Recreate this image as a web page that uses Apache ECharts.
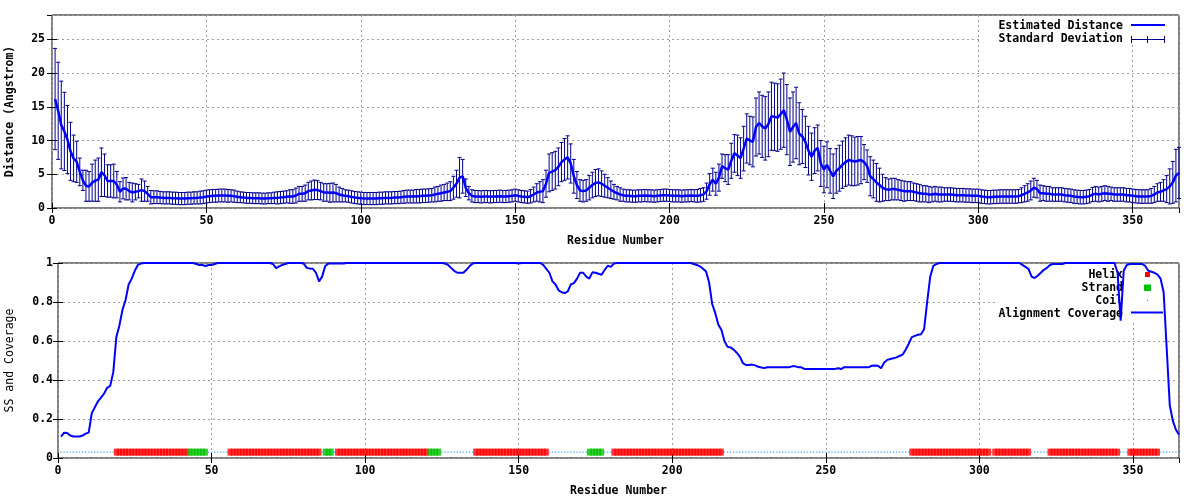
<!DOCTYPE html>
<html><head><meta charset="utf-8">
<script src="https://cdn.jsdelivr.net/npm/echarts@6/dist/echarts.min.js"></script>
<style>html,body{margin:0;padding:0;background:#fff}#c{width:1200px;height:500px}</style>
</head><body><div id="c"></div>
<script>
// Estimated distance per residue (1..365)
const distance = [
16.15,14.4,12.3,11.35,10.15,8.4,7.35,6.85,5.35,4.1,
3.3,3.2,3.75,4.05,4.2,5.3,4.85,4.0,4.0,4.0,
3.45,2.4,2.9,2.85,2.5,2.3,2.4,2.5,2.65,2.5,
2.1,1.6,1.6,1.6,1.55,1.5,1.5,1.5,1.45,1.45,
1.4,1.4,1.4,1.45,1.45,1.5,1.5,1.55,1.6,1.7,
1.75,1.8,1.8,1.85,1.85,1.85,1.8,1.8,1.75,1.65,
1.6,1.55,1.5,1.5,1.45,1.45,1.45,1.4,1.4,1.45,
1.45,1.5,1.5,1.55,1.6,1.65,1.7,1.7,1.85,2.1,
2.1,2.2,2.5,2.6,2.7,2.65,2.5,2.3,2.3,2.25,
2.3,2.2,2.0,1.9,1.8,1.75,1.65,1.55,1.5,1.45,
1.4,1.4,1.4,1.4,1.4,1.45,1.45,1.5,1.5,1.5,
1.55,1.55,1.6,1.65,1.7,1.7,1.7,1.75,1.75,1.8,
1.8,1.85,1.9,2.0,2.1,2.2,2.3,2.4,2.5,3.0,
3.6,4.5,4.7,3.0,2.2,1.8,1.7,1.7,1.65,1.7,
1.7,1.65,1.7,1.7,1.75,1.7,1.7,1.75,1.8,1.9,
1.8,1.7,1.65,1.6,1.75,2.0,2.3,2.4,2.5,3.6,
5.2,5.4,5.6,6.1,6.8,7.2,7.5,6.6,4.7,3.4,
2.6,2.5,2.6,3.0,3.4,3.7,3.8,3.6,3.3,3.0,
2.7,2.4,2.2,2.0,1.9,1.8,1.8,1.75,1.75,1.8,
1.8,1.85,1.8,1.8,1.75,1.8,1.85,1.9,1.9,1.85,
1.8,1.8,1.8,1.75,1.8,1.8,1.85,1.8,1.8,1.9,
2.0,2.5,3.5,4.2,3.6,4.5,6.2,5.9,5.7,7.0,
8.1,7.8,7.4,8.8,10.3,10.0,9.8,12.0,12.6,12.1,
11.8,12.4,13.6,13.5,13.4,13.9,14.5,13.1,11.3,12.0,
12.6,11.0,10.6,9.8,8.5,7.6,8.5,8.9,6.6,5.7,
6.4,5.5,4.7,5.5,5.9,6.4,6.8,7.1,7.0,6.9,
7.0,7.1,6.8,6.2,4.7,4.3,3.8,3.4,3.0,2.8,
2.7,2.8,2.8,2.7,2.6,2.5,2.5,2.5,2.4,2.3,
2.2,2.1,2.1,2.0,2.0,2.1,2.0,2.0,2.0,2.0,
2.0,1.95,1.9,1.9,1.9,1.85,1.85,1.8,1.8,1.8,
1.7,1.65,1.6,1.6,1.65,1.65,1.7,1.7,1.7,1.7,
1.7,1.7,1.75,1.9,2.1,2.3,2.6,3.0,2.8,2.2,
2.2,2.1,2.1,2.0,2.0,2.0,2.0,1.9,1.85,1.8,
1.7,1.65,1.6,1.6,1.65,1.75,2.0,2.1,2.0,2.1,
2.2,2.1,2.1,2.0,2.0,2.0,2.0,1.9,1.9,1.8,
1.75,1.7,1.7,1.7,1.7,1.8,2.0,2.3,2.4,2.6,
2.8,3.2,3.8,4.8,5.2
];
// Standard deviation per residue (1..365)
const stdDev = [
7.5,7.2,6.5,5.8,5.05,4.3,3.45,3.05,2.05,1.5,
2.3,2.2,2.75,3.05,3.2,3.6,3.15,2.4,2.4,2.5,
1.95,1.5,1.55,1.65,1.3,1.4,1.2,1.0,1.65,1.5,
1.1,1.0,0.95,0.95,0.9,0.9,0.9,0.9,0.9,0.9,
0.9,0.9,0.9,0.9,0.9,0.9,0.9,0.95,0.95,0.95,
0.95,0.95,0.95,0.95,0.95,0.95,0.95,0.9,0.9,0.85,
0.8,0.8,0.8,0.8,0.8,0.8,0.8,0.8,0.8,0.8,
0.8,0.85,0.9,0.9,0.9,0.9,1.0,1.0,1.1,1.1,
1.1,1.2,1.3,1.4,1.45,1.4,1.3,1.3,1.3,1.4,
1.4,1.3,1.1,1.0,0.9,0.9,0.9,0.9,0.9,0.9,
0.9,0.9,0.9,0.9,0.9,0.9,0.9,0.9,0.9,0.9,
0.9,0.9,0.9,0.95,0.95,0.95,0.95,1.0,1.0,1.0,
1.0,1.0,1.0,1.1,1.1,1.2,1.2,1.3,1.4,1.7,
2.0,3.0,2.5,1.3,1.0,0.9,0.9,0.9,0.9,0.9,
0.9,0.9,0.9,0.9,0.9,0.9,0.9,0.9,0.9,0.9,
0.9,0.9,0.9,0.9,1.0,1.1,1.3,1.5,1.7,2.0,
2.8,2.8,2.8,2.8,2.9,3.1,3.2,2.9,2.5,2.0,
1.6,1.6,1.6,1.8,1.9,2.0,2.0,1.9,1.7,1.5,
1.3,1.1,1.0,1.0,0.9,0.9,0.9,0.9,0.9,0.9,
0.9,0.9,0.9,0.9,0.9,0.9,0.9,0.9,0.9,0.9,
0.9,0.9,0.9,0.9,0.9,0.9,0.9,0.9,0.95,1.0,
1.0,1.2,1.6,1.7,1.7,2.0,1.8,2.0,2.2,2.6,
2.8,3.0,3.0,3.3,3.65,3.6,3.7,4.3,4.6,4.6,
4.7,4.8,5.05,5.0,5.0,5.2,5.5,5.2,5.0,5.2,
5.3,4.6,4.0,3.8,3.6,3.5,3.4,3.4,3.4,3.45,
3.4,3.3,3.3,3.3,3.4,3.5,3.6,3.7,3.7,3.6,
3.6,3.5,2.6,2.4,2.9,2.8,2.8,2.5,2.0,1.7,
1.6,1.6,1.6,1.5,1.5,1.5,1.4,1.4,1.3,1.3,
1.3,1.2,1.2,1.2,1.1,1.1,1.1,1.1,1.0,1.0,
1.0,1.0,1.0,1.0,1.0,1.0,1.0,1.0,1.0,1.0,
1.0,1.0,1.0,1.0,1.0,1.0,1.0,1.0,1.0,1.0,
1.0,1.0,1.0,1.1,1.2,1.3,1.4,1.4,1.3,1.2,
1.1,1.1,1.1,1.0,1.0,1.0,1.0,1.0,1.0,1.0,
1.0,1.0,1.0,1.0,1.0,1.0,1.05,1.1,1.1,1.1,
1.1,1.1,1.0,1.0,1.0,1.0,1.0,1.0,1.0,1.0,
1.0,1.0,1.0,1.0,1.0,1.1,1.2,1.3,1.4,1.6,
2.0,2.6,3.1,3.9,3.8
];
// Alignment coverage per residue (1..365)
const coverage = [
0.11,0.13,0.128,0.115,0.11,0.11,0.11,0.115,0.125,0.13,
0.23,0.26,0.29,0.31,0.33,0.36,0.37,0.44,0.62,0.68,
0.76,0.81,0.89,0.92,0.96,0.99,0.997,1,1,1,
1,1,1,1,1,1,1,1,1,1,
1,1,1,1,0.995,0.99,0.99,0.985,0.99,0.99,
0.995,1,1,1,1,1,1,1,1,1,
1,1,1,1,1,1,1,1,1,0.995,
0.974,0.983,0.99,0.995,1,1,1,1,1,0.997,
0.975,0.972,0.97,0.95,0.906,0.93,0.985,0.997,0.997,0.997,
0.997,0.997,0.997,1,1,1,1,1,1,1,
1,1,1,1,1,1,1,1,1,1,
1,1,1,1,1,1,1,1,1,1,
1,1,1,1,1,0.997,0.99,0.975,0.96,0.95,
0.95,0.95,0.965,0.983,0.997,1,1,1,1,1,
1,1,1,1,1,1,1,1,1,0.997,
1,1,1,1,1,1,1,0.99,0.97,0.95,
0.906,0.89,0.86,0.85,0.846,0.855,0.89,0.897,0.92,0.95,
0.95,0.93,0.92,0.952,0.95,0.945,0.94,0.965,0.986,0.98,
0.997,1,1,1,1,1,1,1,1,1,
1,1,1,1,1,1,1,1,1,1,
1,1,1,1,1,1,0.995,0.99,0.983,0.97,
0.957,0.9,0.79,0.744,0.684,0.658,0.6,0.57,0.567,0.556,
0.54,0.52,0.487,0.477,0.477,0.479,0.475,0.468,0.464,0.462,
0.465,0.465,0.465,0.465,0.465,0.465,0.465,0.465,0.47,0.47,
0.466,0.465,0.457,0.457,0.456,0.456,0.456,0.456,0.456,0.457,
0.457,0.457,0.457,0.46,0.456,0.466,0.466,0.466,0.466,0.466,
0.466,0.466,0.466,0.466,0.473,0.474,0.473,0.46,0.49,0.503,
0.508,0.512,0.516,0.523,0.53,0.555,0.586,0.62,0.626,0.632,
0.635,0.66,0.8,0.93,0.985,0.995,1,1,1,1,
1,1,1,1,1,1,1,1,1,1,
1,1,1,1,1,1,1,1,1,1,
1,1,1,0.99,0.98,0.97,0.93,0.923,0.935,0.95,
0.965,0.975,0.99,0.995,0.995,0.995,0.995,1,1,1,
1,1,1,1,1,1,1,1,1,1,
1,1,1,1,0.95,0.704,0.96,0.99,0.995,0.995,
0.995,0.995,0.995,0.985,0.96,0.955,0.95,0.94,0.92,0.85,
0.56,0.27,0.19,0.145,0.12
];
// Secondary structure segments (residue ranges)
const helixRanges = [[19,42],[56,85],[91,120],[136,159],[181,216],[278,303],[305,316],[323,345],[349,358]];
const strandRanges = [[43,48],[87,89],[121,124],[173,177]];
const ssLevel = 0.03;
const firstResidue = 1, lastResidue = 365;
const xTicks = [0,50,100,150,200,250,300,350];

const residues = [];
for (let r = firstResidue; r <= lastResidue; r++) residues.push(r);
const inRanges = (r, rs) => rs.some(a => r >= a[0] && r <= a[1]);
const helixPts = [], strandPts = [], coilPts = [];
residues.forEach(r => {
  if (inRanges(r, helixRanges)) helixPts.push([r, ssLevel]);
  else if (inRanges(r, strandRanges)) strandPts.push([r, ssLevel]);
  else coilPts.push([r, ssLevel]);
});

const FONT = 'DejaVu Sans Mono';
const lbl = {fontFamily: FONT, fontWeight: 'bold', fontSize: 11.5, color: '#000'};
const gridLine = {show: true, lineStyle: {color: '#a0a0a0', type: [2, 3], width: 1}};
const tick = {show: true, inside: true, length: 5, lineStyle: {color: '#000'}};

function xAx(grid, main, name, gap) {
  return {
    type: 'value', gridIndex: grid, min: 0, max: 365, interval: 50,
    position: main ? 'bottom' : 'top',
    name: main ? name : '', nameLocation: 'middle', nameGap: gap || 26,
    nameTextStyle: {fontFamily: FONT, fontWeight: 'bold', fontSize: 11.5, color: '#000'},
    axisLine: {show: false}, axisTick: tick,
    axisLabel: main ? Object.assign({margin: 7, showMaxLabel: false,
      formatter: v => xTicks.indexOf(v) >= 0 ? String(v) : ''}, lbl) : {show: false},
    splitLine: main ? gridLine : {show: false}, z: main ? 0 : 3
  };
}

const option = {
  animation: false,
  backgroundColor: '#fff',
  grid: [
    {left: 52, top: 15, width: 1127, height: 193, show: true, borderColor: '#000', borderWidth: 1,
     containLabel: false, outerBoundsMode: 'none'},
    {left: 58, top: 263, width: 1121, height: 195, show: true, borderColor: '#000', borderWidth: 1,
     containLabel: false, outerBoundsMode: 'none'}
  ],
  xAxis: [xAx(0, true, 'Residue Number', 27), xAx(0, false), xAx(1, true, 'Residue Number', 27), xAx(1, false)],
  yAxis: [
    {type: 'value', gridIndex: 0, min: 0, max: 28.6, interval: 5, position: 'left',
     name: 'Distance (Angstrom)', nameLocation: 'middle', nameGap: 36, nameRotate: 90,
     nameTextStyle: {fontFamily: FONT, fontWeight: 'bold', fontSize: 11.5, color: '#000'},
     axisLine: {show: false}, axisTick: tick,
     axisLabel: Object.assign({margin: 7, showMaxLabel: false,
       formatter: v => (v % 5 === 0) ? String(v) : ''}, lbl),
     splitLine: gridLine},
    {type: 'value', gridIndex: 0, min: 0, max: 28.6, interval: 5, position: 'right',
     axisLine: {show: false}, axisTick: tick, axisLabel: {show: false}, splitLine: {show: false}, z: 3},
    {type: 'value', gridIndex: 1, min: 0, max: 1, interval: 0.2, position: 'left',
     name: 'SS and Coverage', nameLocation: 'middle', nameGap: 42, nameRotate: 90,
     nameTextStyle: {fontFamily: FONT, fontWeight: 'normal', fontSize: 11.5, color: '#000'},
     axisLine: {show: false}, axisTick: tick,
     axisLabel: Object.assign({margin: 5}, lbl),
     splitLine: gridLine},
    {type: 'value', gridIndex: 1, min: 0, max: 1, interval: 0.2, position: 'right',
     axisLine: {show: false}, axisTick: tick, axisLabel: {show: false}, splitLine: {show: false}, z: 3}
  ],
  graphic: [
    {type: 'rect', shape: {x: 979, y: 16, width: 199, height: 27}, style: {fill: '#fff'}, z: 1},
    {type: 'rect', shape: {x: 998, y: 264, width: 180, height: 56}, style: {fill: '#fff'}, z: 1},
    {type: 'text', x: 1123, y: 26, z: 5, style: {text: 'Estimated Distance', align: 'right', verticalAlign: 'middle', font: 'bold 11.5px "DejaVu Sans Mono"', fill: '#000'}},
    {type: 'line', z: 5, shape: {x1: 1131, y1: 25, x2: 1165, y2: 25}, style: {stroke: '#0000ff', lineWidth: 2}},
    {type: 'text', x: 1123, y: 39, z: 5, style: {text: 'Standard Deviation', align: 'right', verticalAlign: 'middle', font: 'bold 11.5px "DejaVu Sans Mono"', fill: '#000'}},
    {type: 'line', z: 5, shape: {x1: 1131, y1: 39.5, x2: 1165, y2: 39.5}, style: {stroke: '#00008b', lineWidth: 1}},
    {type: 'line', z: 5, shape: {x1: 1131.5, y1: 36, x2: 1131.5, y2: 43}, style: {stroke: '#00008b', lineWidth: 1}},
    {type: 'line', z: 5, shape: {x1: 1164.5, y1: 36, x2: 1164.5, y2: 43}, style: {stroke: '#00008b', lineWidth: 1}},
    {type: 'line', z: 5, shape: {x1: 1147.5, y1: 36, x2: 1147.5, y2: 43}, style: {stroke: '#00008b', lineWidth: 1}},
    {type: 'text', x: 1123, y: 275, z: 1, style: {text: 'Helix', align: 'right', verticalAlign: 'middle', font: 'bold 11.5px "DejaVu Sans Mono"', fill: '#000'}},
    {type: 'rect', z: 5, shape: {x: 1145, y: 272, width: 5, height: 5}, style: {fill: '#ff0000'}},
    {type: 'text', x: 1123, y: 288, z: 1, style: {text: 'Strand', align: 'right', verticalAlign: 'middle', font: 'bold 11.5px "DejaVu Sans Mono"', fill: '#000'}},
    {type: 'rect', z: 5, shape: {x: 1144, y: 284.5, width: 7, height: 6.5}, style: {fill: '#00c000'}},
    {type: 'text', x: 1123, y: 301, z: 1, style: {text: 'Coil', align: 'right', verticalAlign: 'middle', font: 'bold 11.5px "DejaVu Sans Mono"', fill: '#000'}},
    {type: 'rect', z: 5, shape: {x: 1147, y: 300, width: 1, height: 1}, style: {fill: '#1e90ff'}},
    {type: 'text', x: 1123, y: 314, z: 1, style: {text: 'Alignment Coverage', align: 'right', verticalAlign: 'middle', font: 'bold 11.5px "DejaVu Sans Mono"', fill: '#000'}},
    {type: 'line', z: 5, shape: {x1: 1131, y1: 312.5, x2: 1163, y2: 312.5}, style: {stroke: '#0000ff', lineWidth: 2}}
  ],
  series: [
    {name: 'Standard Deviation', type: 'custom', xAxisIndex: 0, yAxisIndex: 0, z: 2,
     data: residues.map((r, i) => [r, distance[i], stdDev[i]]),
     encode: {x: 0, y: 1},
     renderItem: function (params, api) {
       const r = api.value(0), m = api.value(1), s = api.value(2);
       const hi = api.coord([r, m + s]), lo = api.coord([r, m - s]);
       const w = 2;
       const st = {stroke: '#00008b', lineWidth: 1, fill: null};
       return {type: 'group', children: [
         {type: 'line', shape: {x1: hi[0], y1: hi[1], x2: lo[0], y2: lo[1]}, style: st},
         {type: 'line', shape: {x1: hi[0] - w, y1: hi[1], x2: hi[0] + w, y2: hi[1]}, style: st},
         {type: 'line', shape: {x1: lo[0] - w, y1: lo[1], x2: lo[0] + w, y2: lo[1]}, style: st}
       ]};
     }},
    {name: 'Estimated Distance', type: 'line', xAxisIndex: 0, yAxisIndex: 0, z: 3,
     data: residues.map((r, i) => [r, distance[i]]), showSymbol: false,
     lineStyle: {color: '#0000ff', width: 2.5}},
    {name: 'Coil', type: 'scatter', xAxisIndex: 2, yAxisIndex: 2, z: 2,
     data: coilPts, symbol: 'rect', symbolSize: [1.3, 1.3], itemStyle: {color: '#1e90ff'}},
    {name: 'Helix', type: 'scatter', xAxisIndex: 2, yAxisIndex: 2, z: 2,
     data: helixPts, symbol: 'rect', symbolSize: [5, 7], itemStyle: {color: '#ff0000'}},
    {name: 'Strand', type: 'scatter', xAxisIndex: 2, yAxisIndex: 2, z: 2,
     data: strandPts, symbol: 'rect', symbolSize: [5, 7], itemStyle: {color: '#00c000'}},
    {name: 'Alignment Coverage', type: 'line', xAxisIndex: 2, yAxisIndex: 2, z: 3,
     data: residues.map((r, i) => [r, coverage[i]]), showSymbol: false,
     lineStyle: {color: '#0000ff', width: 2}}
  ]
};
const chart = echarts.init(document.getElementById('c'), null, {renderer: 'canvas'});
chart.setOption(option);
</script>
</body></html>
